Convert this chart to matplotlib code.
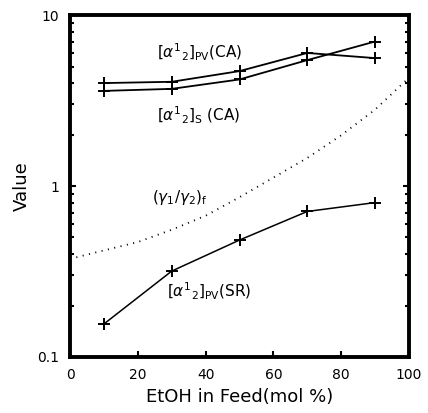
import matplotlib.pyplot as plt

feed = [10, 30, 50, 70, 90]
pv_ca = [4.0, 4.07, 4.7, 6.0, 5.6]
s_ca = [3.6, 3.7, 4.2, 5.45, 7.0]
pv_sr = [0.156, 0.318, 0.483, 0.71, 0.80]

gamma_x = [0, 10, 20, 30, 40, 50, 60, 70, 80, 90, 100]
gamma_y = [0.375, 0.42, 0.47, 0.555, 0.67, 0.86, 1.12, 1.46, 1.98, 2.8, 4.3]

fig = plt.figure(figsize=(4.28, 4.13), dpi=100)
ax = fig.add_axes([0.1636, 0.1356, 0.792, 0.828])

ax.plot(feed, pv_ca, color='black', lw=1.3, marker='+', ms=8, mew=1.4)
ax.plot(feed, s_ca, color='black', lw=1.3, marker='+', ms=8, mew=1.4)
ax.plot(feed, pv_sr, color='black', lw=1.1, marker='+', ms=8, mew=1.4)
ax.plot(gamma_x, gamma_y, color='black', lw=1.3, linestyle=(0, (0.6, 3.0)))

ax.set_yscale('log')
ax.set_xlim(0, 100)
ax.set_ylim(0.1, 10)
ax.set_xticks([0, 20, 40, 60, 80, 100])
ax.set_yticks([0.1, 1, 10])
ax.set_yticklabels(['0.1', '1', '10'])
ax.tick_params(axis='both', which='both', direction='in', labelsize=10,
               width=1.5, top=False, right=True)
ax.tick_params(axis='both', which='major', length=4, pad=8)
ax.tick_params(axis='both', which='minor', length=3)
for s in ax.spines.values():
    s.set_linewidth(2.8)

ax.set_xlabel('EtOH in Feed(mol %)', fontsize=13)
ax.set_ylabel('Value', fontsize=13, labelpad=4)

ax.text(25.7, 6.08, r'$[\alpha^{1}{}_{2}]_{\mathrm{PV}}$(CA)', fontsize=11, va='center')
ax.text(25.7, 2.6, r'$[\alpha^{1}{}_{2}]_{\mathrm{S}}$ (CA)', fontsize=11, va='center')
ax.text(24.2, 0.86, r'$(\gamma_1/\gamma_2)_{\mathrm{f}}$', fontsize=11, va='center')
ax.text(28.6, 0.243, r'$[\alpha^{1}{}_{2}]_{\mathrm{PV}}$(SR)', fontsize=11, va='center')

fig.savefig('out.png', dpi=100)
